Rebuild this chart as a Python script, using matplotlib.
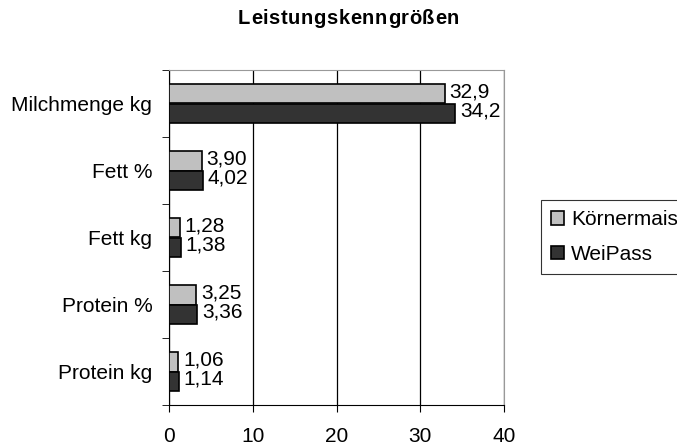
import numpy as np
import matplotlib.pyplot as plt

# data
categories = ["Milchmenge kg", "Fett %", "Fett kg", "Protein %", "Protein kg"]
koernermais = [32.9, 3.90, 1.28, 3.25, 1.06]
weipass = [34.2, 4.02, 1.38, 3.36, 1.14]
labels_k = ["32,9", "3,90", "1,28", "3,25", "1,06"]
labels_w = ["34,2", "4,02", "1,38", "3,36", "1,14"]
title = "Leistungskenngrößen"

plt.rcParams['font.family'] = ['Liberation Sans', 'DejaVu Sans']
FS = 15

fig = plt.figure(figsize=(6.77, 4.48), dpi=100)
ax = fig.add_axes([169 / 677, 1 - 405 / 448, 335 / 677, 335 / 448])

y = np.arange(len(categories))
h = 0.285
ax.barh(y - h / 2, koernermais, height=h, color="#c0c0c0", edgecolor="black",
        linewidth=1.2, label="Körnermais", zorder=3)
ax.barh(y + h / 2, weipass, height=h, color="#333333", edgecolor="black",
        linewidth=1.2, label="WeiPass", zorder=3)

for i in range(len(categories)):
    ax.text(koernermais[i] + 0.6, y[i] - h / 2 - 0.03, labels_k[i], va="center",
            ha="left", fontsize=FS)
    ax.text(weipass[i] + 0.6, y[i] + h / 2 - 0.03, labels_w[i], va="center",
            ha="left", fontsize=FS)

ax.set_xlim(0, 40)
ax.set_ylim(len(categories) - 0.5, -0.5)
ax.set_xticks([0, 10, 20, 30, 40])
ax.set_xticklabels(["0", "10", "20", "30", "40"], fontsize=FS)
ax.set_yticks(y)
ax.set_yticklabels(categories, fontsize=FS)
ax.set_yticks(np.arange(-0.5, len(categories), 1), minor=True)
ax.tick_params(axis="y", which="major", length=0, pad=12)
ax.tick_params(axis="y", which="minor", length=5, direction="out")
ax.tick_params(axis="x", length=5, direction="out", pad=11)

ax.grid(axis="x", color="black", linewidth=0.9, zorder=0)
ax.spines["top"].set_color("#999999")
ax.spines["right"].set_color("#999999")
ax.spines["left"].set_color("black")
ax.spines["bottom"].set_color("black")

# title with letter spacing
renderer = fig.canvas.get_renderer()
spacing = 0.6  # px between letters
widths = []
for ch in title:
    t = fig.text(0, 0, ch, fontsize=14.5, fontweight="bold")
    widths.append(t.get_window_extent(renderer).width)
    t.remove()
total = sum(widths) + spacing * (len(title) - 1)
x0 = 348.5 - total / 2
for ch, w in zip(title, widths):
    fig.text(x0 / 677, 1 - 19 / 448, ch, ha="left", va="center",
             fontsize=14.5, fontweight="bold")
    x0 += w + spacing

leg = fig.legend(loc="upper left", bbox_to_anchor=(541 / 677, 1 - 200 / 448),
                 frameon=True, fancybox=False, edgecolor="black",
                 fontsize=FS, handlelength=0.6, handleheight=0.6,
                 handletextpad=0.35, borderpad=0.5, labelspacing=0.75,
                 borderaxespad=0)
leg.get_frame().set_linewidth(0.8)

fig.savefig("out.png", dpi=100)
